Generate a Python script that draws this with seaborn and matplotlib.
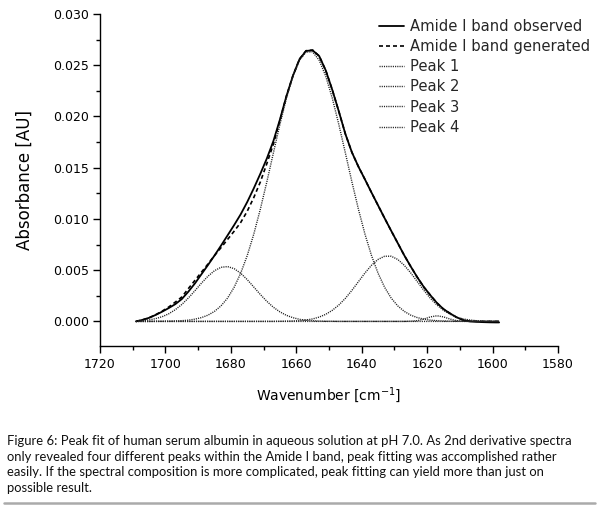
import matplotlib
matplotlib.use("Agg")
import matplotlib.pyplot as plt
import seaborn as sns
from matplotlib.ticker import MultipleLocator, FormatStrFormatter
from matplotlib.lines import Line2D

# ---- data ----
wavenumber = [1709, 1707, 1705, 1703, 1701, 1699, 1697, 1695, 1693, 1691,
              1689, 1687, 1685, 1683, 1681, 1679, 1677, 1675, 1673, 1671,
              1669, 1667, 1665, 1663, 1661, 1659, 1657, 1655, 1653, 1651,
              1649, 1647, 1645, 1643, 1641, 1639, 1637, 1635, 1633, 1631,
              1629, 1627, 1625, 1623, 1621, 1619, 1617, 1615, 1613, 1611,
              1609, 1607, 1605, 1603, 1601, 1599, 1598]

observed = [0.00000, 0.00015, 0.00035, 0.00063, 0.00095, 0.00130, 0.00168, 0.00218, 0.00290, 0.00370,
            0.00460, 0.00550, 0.00643, 0.00740, 0.00840, 0.00940, 0.01045, 0.01165, 0.01298, 0.01440,
            0.01590, 0.01760, 0.01970, 0.02200, 0.02400, 0.02560, 0.02640, 0.02645, 0.02590, 0.02450,
            0.02260, 0.02050, 0.01830, 0.01650, 0.01510, 0.01385, 0.01257, 0.01132, 0.01007, 0.00885,
            0.00765, 0.00645, 0.00535, 0.00430, 0.00335, 0.00255, 0.00180, 0.00120, 0.00078, 0.00040,
            0.00013, 0.00000, -0.00004, -0.00007, -0.00009, -0.00010, -0.00010]

generated = [0.00000, 0.00015, 0.00035, 0.00065, 0.00100, 0.00140, 0.00188, 0.00238, 0.00320, 0.00400,
             0.00480, 0.00560, 0.00643, 0.00720, 0.00800, 0.00880, 0.00965, 0.01075, 0.01208, 0.01360,
             0.01540, 0.01730, 0.01960, 0.02200, 0.02400, 0.02560, 0.02642, 0.02648, 0.02590, 0.02450,
             0.02260, 0.02050, 0.01830, 0.01650, 0.01510, 0.01385, 0.01257, 0.01132, 0.01007, 0.00885,
             0.00765, 0.00645, 0.00535, 0.00430, 0.00335, 0.00255, 0.00180, 0.00120, 0.00078, 0.00040,
             0.00015, 0.00004, 0.00001, 0.0, 0.0, 0.0, 0.0]

peak1 = [0.00004, 0.00008, 0.00015, 0.00027, 0.00046, 0.00074, 0.00114, 0.00165, 0.00228, 0.00299,
         0.00373, 0.00441, 0.00495, 0.00528, 0.00535, 0.00515, 0.00470, 0.00408, 0.00336, 0.00263,
         0.00196, 0.00138, 0.00093, 0.00059, 0.00036, 0.00020, 0.00011, 0.00006, 0.00003, 0.00001,
         0.00001, 0.0, 0.0, 0.0, 0.0, 0.0, 0.0, 0.0, 0.0, 0.0,
         0.0, 0.0, 0.0, 0.0, 0.0, 0.0, 0.0, 0.0, 0.0, 0.0,
         0.0, 0.0, 0.0, 0.0, 0.0, 0.0, 0.0]

peak2 = [0.0, 0.0, 0.0, 0.00001, 0.00001, 0.00002, 0.00004, 0.00007, 0.00012, 0.00022,
         0.00037, 0.00061, 0.00098, 0.00152, 0.00228, 0.00333, 0.00470, 0.00642, 0.00851, 0.01094,
         0.01362, 0.01644, 0.01922, 0.02179, 0.02394, 0.02549, 0.02630, 0.02630, 0.02549, 0.02394,
         0.02179, 0.01922, 0.01644, 0.01362, 0.01094, 0.00851, 0.00642, 0.00470, 0.00333, 0.00228,
         0.00152, 0.00098, 0.00061, 0.00037, 0.00022, 0.00012, 0.00007, 0.00004, 0.00002, 0.00001,
         0.00001, 0.0, 0.0, 0.0, 0.0, 0.0, 0.0]

peak3 = [0.0, 0.0, 0.0, 0.0, 0.0, 0.0, 0.0, 0.0, 0.0, 0.0,
         0.0, 0.0, 0.0, 0.0, 0.0, 0.0, 0.0, 0.0, 0.0, 0.0,
         0.0, 0.0, 0.00001, 0.00002, 0.00004, 0.00007, 0.00014, 0.00024, 0.00042, 0.00069,
         0.00108, 0.00160, 0.00225, 0.00303, 0.00388, 0.00473, 0.00548, 0.00605, 0.00636, 0.00636,
         0.00605, 0.00548, 0.00473, 0.00388, 0.00303, 0.00225, 0.00160, 0.00108, 0.00069, 0.00042,
         0.00024, 0.00014, 0.00007, 0.00004, 0.00002, 0.00001, 0.00001]

peak4 = [0.0, 0.0, 0.0, 0.0, 0.0, 0.0, 0.0, 0.0, 0.0, 0.0,
         0.0, 0.0, 0.0, 0.0, 0.0, 0.0, 0.0, 0.0, 0.0, 0.0,
         0.0, 0.0, 0.0, 0.0, 0.0, 0.0, 0.0, 0.0, 0.0, 0.0,
         0.0, 0.0, 0.0, 0.0, 0.0, 0.0, 0.0, 0.0, 0.0, 0.0,
         0.0, 0.0, 0.00002, 0.00007, 0.00023, 0.00044, 0.00055, 0.00044, 0.00023, 0.00007,
         0.00002, 0.0, 0.0, 0.0, 0.0, 0.0, 0.0]

series_labels = ["Amide I band observed", "Amide I band generated",
                 "Peak 1", "Peak 2", "Peak 3", "Peak 4"]

caption_lines = [
    "Figure 6: Peak fit of human serum albumin in aqueous solution at pH 7.0. As 2nd derivative spectra",
    "only revealed four different peaks within the Amide I band, peak fitting was accomplished rather",
    "easily. If the spectral composition is more complicated, peak fitting can yield more than just on",
    "possible result.",
]

# ---- style ----
sns.set_theme(style="ticks")
plt.rcParams["font.family"] = ["DejaVu Sans"]
plt.rcParams["mathtext.default"] = "regular"

W, H = 600, 509
fig = plt.figure(figsize=(W / 100, H / 100), dpi=100)
ax = fig.add_axes([100 / W, 1 - 346 / H, 458 / W, 332 / H])

series = [observed, generated, peak1, peak2, peak3, peak4]
dot = (0, (0.8, 0.8))
styles = [
    dict(color="black", linestyle="-", linewidth=1.3),
    dict(color="black", linestyle=(0, (2.4, 1.8)), linewidth=1.2),
    dict(color="#222222", linestyle=dot, linewidth=1.0),
    dict(color="#222222", linestyle=dot, linewidth=1.0),
    dict(color="#222222", linestyle=dot, linewidth=1.0),
    dict(color="#222222", linestyle=dot, linewidth=1.0),
]
for lab, ys, st in zip(series_labels, series, styles):
    sns.lineplot(x=wavenumber, y=ys, ax=ax, label=lab, sort=False, **st)

ax.set_xlim(1720, 1580)
ax.set_ylim(-0.0024, 0.030)
ax.xaxis.set_major_locator(MultipleLocator(20))
ax.xaxis.set_minor_locator(MultipleLocator(10))
ax.yaxis.set_major_locator(MultipleLocator(0.005))
ax.yaxis.set_minor_locator(MultipleLocator(0.0025))
ax.yaxis.set_major_formatter(FormatStrFormatter("%.3f"))

for s in ["top", "right"]:
    ax.spines[s].set_visible(False)
for s in ["left", "bottom"]:
    ax.spines[s].set_color("black")
    ax.spines[s].set_linewidth(1.0)

ax.tick_params(which="major", direction="out", length=5, width=1, colors="black",
               labelsize=9)
ax.tick_params(axis="x", which="major", pad=3.5)
ax.tick_params(axis="y", which="major", pad=3)
ax.tick_params(which="minor", direction="out", length=3, width=1, colors="black")

ax.set_xlabel("Wavenumber [cm$^{-1}$]", fontsize=10, labelpad=10, color="black")
ax.set_ylabel("Absorbance [AU]", fontsize=12, labelpad=14, color="black")

ax.legend(loc="upper left", bbox_to_anchor=(379 / W, 1 - 19 / H),
          bbox_transform=fig.transFigure, frameon=False, fontsize=10.6,
          handlelength=1.7, handletextpad=0.4, labelspacing=0.35,
          borderpad=0, borderaxespad=0)

# caption
for i, line in enumerate(caption_lines):
    fig.text(7 / W, 1 - (441 + 15.7 * i) / H, line, fontsize=9.4, color="#111111",
             va="center", ha="left", family=["Lato", "DejaVu Sans"])
fig.add_artist(Line2D([4 / W, 595 / W], [1 - 503 / H] * 2, color="#aaaaaa", lw=1.8))

fig.savefig("out.png", dpi=100)
